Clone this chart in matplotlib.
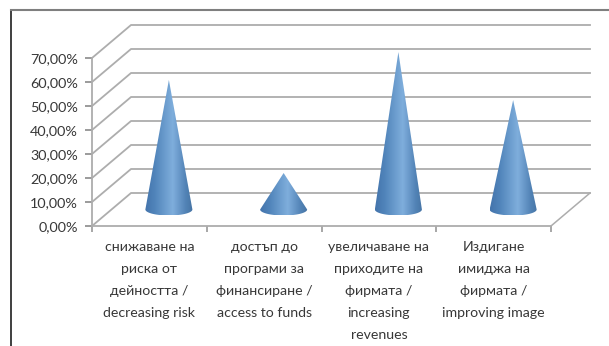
import matplotlib.pyplot as plt
import numpy as np
from matplotlib.lines import Line2D
from matplotlib.patches import Polygon

plt.rcParams['font.family'] = ['Lato', 'Open Sans', 'DejaVu Sans']

categories = [
    "снижаване на\nриска от\nдейността /\ndecreasing risk",
    "достъп до\nпрограми за\nфинансиране /\naccess to funds",
    "увеличаване на\nприходите на\nфирмата /\nincreasing\nrevenues",
    "Издигане\nимиджа на\nфирмата /\nimproving image",
]
values = [54.0, 15.2, 65.6, 45.6]
y_ticks = [0, 10, 20, 30, 40, 50, 60, 70]
y_labels = ["0,00%", "10,00%", "20,00%", "30,00%", "40,00%", "50,00%", "60,00%", "70,00%"]

W, H = 609, 346
GRID = '#adadad'
DEPTH_X = 0.34   # floor depth, in category widths
DEPTH_Y = 13.75  # floor depth, in percent
CONE_W = 0.205
CONE_H = 2.5

fig = plt.figure(figsize=(W / 100, H / 100), dpi=100)
ax = fig.add_axes([92 / W, 1 - 226 / H, 459 / W, 168 / H])
ax.set_xlim(0, 4)
ax.set_ylim(0, 70)
ax.patch.set_visible(False)

# walls and floor
for y in y_ticks:
    ax.plot([0, DEPTH_X, 4 + DEPTH_X], [y, y + DEPTH_Y, y + DEPTH_Y],
            color=GRID, lw=1.3, clip_on=False, zorder=1)
ax.plot([4, 4 + DEPTH_X], [0, DEPTH_Y], color=GRID, lw=1.1, clip_on=False, zorder=1)

# horizontal shading across each cone
stops = np.array([0.0, 0.2, 0.58, 0.85, 1.0])
reds = np.array([0x44, 0x50, 0x7f, 0x52, 0x46])
greens = np.array([0x74, 0x84, 0xae, 0x83, 0x74])
blues = np.array([0xac, 0xba, 0xdc, 0xb6, 0xa4])
pos = np.linspace(0, 1, 128)
shade = np.dstack([np.interp(pos, stops, c) / 255 for c in (reds, greens, blues)])

for i, v in enumerate(values):
    cx = i + 0.5 + DEPTH_X / 2
    base = DEPTH_Y / 2
    t = np.linspace(np.pi, 2 * np.pi, 40)
    outline = np.column_stack([cx + CONE_W * np.cos(t), base + CONE_H * np.sin(t)])
    outline = np.vstack([outline, [cx, base + v]])
    im = ax.imshow(shade, extent=[cx - CONE_W, cx + CONE_W, base - CONE_H, base + v],
                   aspect='auto', zorder=3)
    # the tallest cone rises past the front wall's top, so clip to the outline only
    im.set_clip_box(fig.bbox)
    im.set_clip_path(Polygon(outline, closed=True, transform=ax.transData))

ax.set_xlim(0, 4)
ax.set_ylim(0, 70)

for side in ('top', 'right'):
    ax.spines[side].set_visible(False)
for side in ('left', 'bottom'):
    ax.spines[side].set_color(GRID)
    ax.spines[side].set_linewidth(1.3)

ax.set_yticks(y_ticks)
ax.set_yticklabels(y_labels, fontsize=10.4, color='#383838')
ax.tick_params(axis='y', length=5, width=1.1, color='#808080', pad=5)
ax.set_xticks(range(5))
ax.set_xticklabels([])
ax.tick_params(axis='x', which='major', length=4, width=1.1, color='#909090')
ax.set_xticks([i + 0.5 for i in range(4)], minor=True)
ax.set_xticklabels(categories, minor=True, fontsize=10.2, color='#383838', linespacing=2.0)
ax.tick_params(axis='x', which='minor', length=0, pad=11)

# outer chart border
fig.add_artist(Line2D([11 / W, 11 / W], [0, 1 - 10 / H], color='#303030', lw=1.3))
fig.add_artist(Line2D([11 / W, 1], [1 - 10 / H, 1 - 10 / H], color='#7f7f7f', lw=1.5))

fig.savefig('out.png', dpi=100)
